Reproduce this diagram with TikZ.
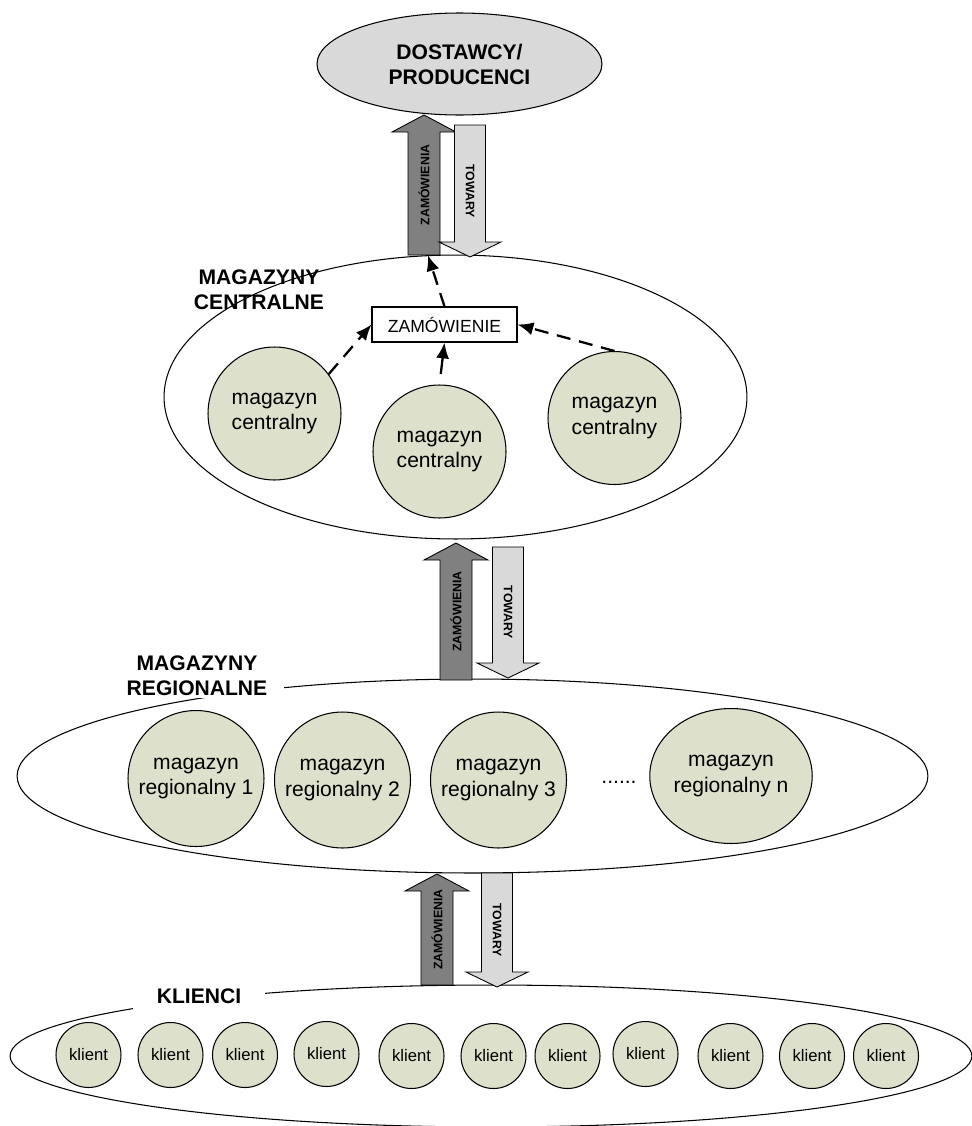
\documentclass[tikz,border=0pt]{standalone}
\usepackage{fontspec}
\setmainfont{Liberation Sans}
\usetikzlibrary{arrows.meta, shapes.geometric}
\definecolor{kolo}{RGB}{221,224,203}
\definecolor{jasnyszary}{RGB}{217,217,217}
\definecolor{ciemnyszary}{RGB}{128,128,128}

\begin{document}
\begin{tikzpicture}[
            x=0.02cm, y=-0.02cm,
            % Style for the large ellipses grouping each level
            grupa/.style={ellipse, draw, line width=0.6pt, inner sep=0pt},
            % Style for the bold level labels
            etykieta/.style={font=\fontsize{12}{14.2}\selectfont\bfseries, align=center},
            % Style for the warehouse circles
            magazyn/.style={circle, draw, line width=0.6pt, fill=kolo, inner sep=0pt, align=center,
                            font=\fontsize{12}{14.5}\selectfont},
            % Style for the small client circles
            klient/.style={circle, draw, line width=0.6pt, fill=kolo, inner sep=0pt,
                           minimum size=1.3cm, font=\fontsize{9.5}{11}\selectfont},
            % Styles for the block arrows and their texts
            zamblok/.style={fill=ciemnyszary, draw=black, line width=0.5pt},
            towblok/.style={fill=jasnyszary, draw=black, line width=0.5pt},
            napis/.style={font=\fontsize{7}{8}\selectfont\bfseries, inner sep=0pt},
            % Style for the order flow arrows
            zamlinia/.style={-{Latex[length=9pt, width=7.5pt]}, line width=1.3pt, dash pattern=on 8pt off 5pt}
        ]
        \useasboundingbox (0,0) rectangle (972,1126);

        % --- Suppliers ---
        \node[grupa, fill=jasnyszary, minimum width=5.7cm, minimum height=2.04cm, etykieta] (dost) at (459.5,64) {DOSTAWCY/\\PRODUCENCI};

        % --- Central warehouses ---
        \node[grupa, minimum width=11.66cm, minimum height=5.68cm] (centr) at (455.5,397) {};
        \node[etykieta] (lcentr) at (259,290) {MAGAZYNY\\CENTRALNE};
        \node[magazyn, minimum size=2.66cm] (c1) at (274.5,413.5) {magazyn\\centralny};
        \node[magazyn, minimum size=2.66cm] (c2) at (439.5,451.5) {magazyn\\centralny};
        \node[magazyn, minimum size=2.66cm] (c3) at (614.5,418) {magazyn\\centralny};
        \node[draw, line width=0.6pt, fill=white, minimum width=2.9cm, minimum height=0.7cm,
              font=\fontsize{10}{12}\selectfont] (zam) at (444.5,324.5) {ZAMÓWIENIE};
        \draw[zamlinia] (c1.36) -- (zam.west);
        \draw[zamlinia, solid, shorten <=6pt] (c2.north) -- (zam.south);
        \draw[zamlinia] (c3.north) -- (zam.east);
        \draw[zamlinia] (zam.north) -- (centr.101);

        % --- Regional warehouses ---
        \node[grupa, minimum width=18.22cm, minimum height=3.88cm] (regio) at (472.5,776) {};
        \node[etykieta, fill=white, inner xsep=9.6pt, inner ysep=1pt] (lregio) at (197,676) {MAGAZYNY\\REGIONALNE};
        \node[magazyn, minimum size=2.72cm] (r1) at (196,778.5) {magazyn\\regionalny 1};
        \node[magazyn, minimum size=2.72cm] (r2) at (342.5,780) {magazyn\\regionalny 2};
        \node[magazyn, minimum size=2.72cm] (r3) at (498.5,780) {magazyn\\regionalny 3};
        \node[font=\fontsize{12}{14}\selectfont, anchor=base] (kropki) at (619,783) {......};
        \node[magazyn, ellipse, minimum width=2.96cm, minimum height=2.7cm] (rn) at (731,776) {magazyn\\regionalny n};

        % --- Clients ---
        \node[grupa, minimum width=19.24cm, minimum height=2.84cm] (klienci) at (491,1056) {};
        \node[etykieta, fill=white, inner xsep=13.6pt, inner ysep=3pt] (lklienci) at (199,996) {KLIENCI};
        \foreach \i/\x/\y in {1/88.5/1055, 2/170.5/1055, 3/245/1055, 4/326.5/1054, 5/411.5/1056, 6/493.5/1056,
                              7/567.5/1056, 8/645.5/1054, 9/730.5/1056, 10/812/1056, 11/886/1056} {
            \node[klient] (k\i) at (\x,\y) {klient};
        }

        % --- Block arrows between the levels ---
        \foreach \k/\xz/\yzt/\yzb/\xt/\ytt/\ytb in {1/424/115/255/470/125/257, 2/456/543/680/508/547/678, 3/437/874/985/497/873/987} {
            % Orders go up
            \draw[zamblok] ({\xz-16},\yzb) -- ({\xz-16},{\yzt+17}) -- ({\xz-32},{\yzt+17}) -- (\xz,\yzt)
                -- ({\xz+32},{\yzt+17}) -- ({\xz+16},{\yzt+17}) -- ({\xz+16},\yzb) -- cycle;
            \node[napis, rotate=90] (zam\k) at (\xz,{(\yzt+\yzb)/2}) {ZAMÓWIENIA};
            % Goods go down
            \draw[towblok] ({\xt-15.5},\ytt) -- ({\xt-15.5},{\ytb-15}) -- ({\xt-31},{\ytb-15}) -- (\xt,\ytb)
                -- ({\xt+31},{\ytb-15}) -- ({\xt+15.5},{\ytb-15}) -- ({\xt+15.5},\ytt) -- cycle;
            \node[napis, rotate=-90] (tow\k) at (\xt,{(\ytt+\ytb)/2}) {TOWARY};
        }

        \end{tikzpicture}
\end{document}
